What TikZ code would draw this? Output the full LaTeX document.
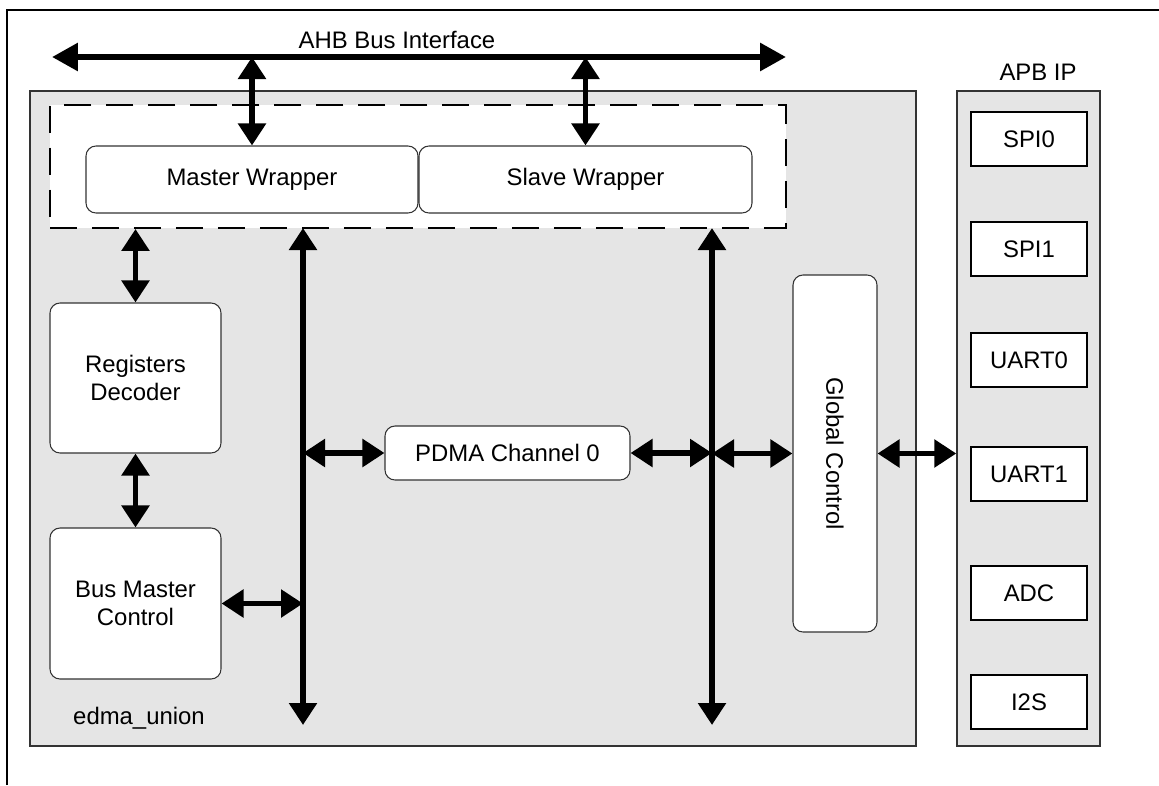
\documentclass[tikz,border=0pt]{standalone}
\usepackage{fontspec}
\setmainfont{Liberation Sans}
\usetikzlibrary{arrows.meta}
\definecolor{boxgray}{HTML}{E5E5E5}

\begin{document}
\begin{tikzpicture}[x=0.02cm,y=-0.02cm,
  font=\fontsize{13.6}{15.9}\selectfont,
  bus/.style={line width=3.4pt,{Triangle[length=0.44cm,width=0.54cm]}-{Triangle[length=0.44cm,width=0.54cm]}},
  blk/.style={draw=black!80,line width=0.6pt,fill=white,rounded corners=0.2cm,align=center,inner sep=0pt},
  ipbox/.style={draw=black,line width=0.8pt,fill=white,minimum width=2.32cm,minimum height=1.08cm,inner sep=0pt},
  area/.style={draw=black!80,line width=0.8pt,fill=boxgray,inner sep=0pt}]
\useasboundingbox (0,0) rectangle (1159,785);
% frame
\draw[line width=1.1pt] (7,785) -- (7,10) -- (1159,10);

% areas
\node[area,minimum width=886*0.02cm,minimum height=655*0.02cm] (edma) at (473,418.5) {};
\node[area,minimum width=143*0.02cm,minimum height=655*0.02cm] (apb) at (1028.5,418.5) {};
\node at (1038,72) {APB IP};
\node at (139,718) {edma\_union};
\node[draw,fill=white,line width=1.1pt,dash pattern=on 0.54cm off 0.3cm,
  minimum width=736*0.02cm,minimum height=123*0.02cm,inner sep=0pt] (wrap) at (418,166.5) {};

% blocks
\node[blk,minimum width=332*0.02cm,minimum height=67*0.02cm] (master) at (252,179.5) {Master Wrapper};
\node[blk,minimum width=333*0.02cm,minimum height=67*0.02cm] (slave) at (585.5,179.5) {Slave Wrapper};
\node[blk,minimum width=171*0.02cm,minimum height=150*0.02cm] (regdec) at (135.5,378) {Registers\\Decoder};
\node[blk,minimum width=171*0.02cm,minimum height=151*0.02cm] (busmst) at (135.5,603.5) {Bus Master\\Control};
\node[blk,minimum width=245*0.02cm,minimum height=54*0.02cm] (pdma) at (507.5,453) {PDMA Channel 0};
\node[blk,minimum width=84*0.02cm,minimum height=357*0.02cm] (glob) at (835,453.5) {\rotatebox{-90}{Global Control}};

% APB IP
\node[ipbox] (spi0) at (1029,139) {SPI0};
\node[ipbox] (spi1) at (1029,249) {SPI1};
\node[ipbox] (uart0) at (1029,360) {UART0};
\node[ipbox] (uart1) at (1029,474) {UART1};
\node[ipbox] (adc) at (1029,593) {ADC};
\node[ipbox] (i2s) at (1029,702) {I2S};

% AHB bus
\coordinate (ahbL) at (52,57);
\coordinate (ahbR) at (786,57);
\draw[bus,{Triangle[length=0.52cm,width=0.54cm]}-{Triangle[length=0.52cm,width=0.54cm]}] (ahbL) -- (ahbR);
\node at (397,40) {AHB Bus Interface};
\draw[bus] (master.north |- ahbL) -- (master.north);
\draw[bus] (slave.north |- ahbL) -- (slave.north);

% internal buses
\coordinate (busAtop) at (303,228);
\coordinate (busAbot) at (303,725);
\coordinate (busBtop) at (712,228);
\coordinate (busBbot) at (712,725);
\draw[bus] (busAtop) -- (busAbot);
\draw[bus] (busBtop) -- (busBbot);

\draw[bus] (regdec.north |- wrap.south) -- (regdec.north);
\draw[bus] (regdec.south) -- (busmst.north);
\draw[bus] (busmst.east) -- (busmst.east -| busAtop);
\draw[bus] (pdma.west -| busAtop) -- (pdma.west);
\draw[bus] (pdma.east) -- (pdma.east -| busBtop);
\draw[bus] (glob.west -| busBtop) -- (glob.west);
\draw[bus] (glob.east) -- (glob.east -| apb.west);
\end{tikzpicture}
\end{document}
